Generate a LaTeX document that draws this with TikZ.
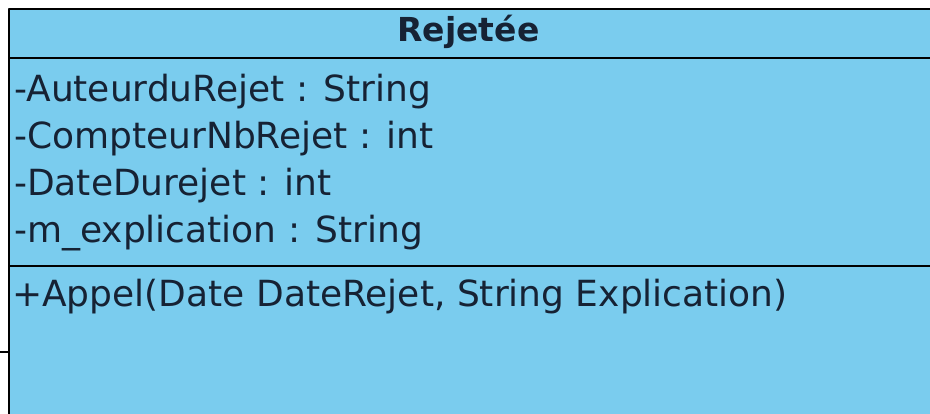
\documentclass[tikz,border=0pt]{standalone}
\usepackage{fontspec}
\setmainfont{DejaVu Sans}
\definecolor{classfill}{RGB}{122,204,238}
\definecolor{classink}{RGB}{22,34,52}
\tikzset{
  member/.style={anchor=base west, inner sep=0pt, text=classink},
}
\begin{document}
\begin{tikzpicture}[x=1pt, y=-1pt, line join=round, font=\fontsize{36}{40}\selectfont]
            \useasboundingbox (0,0) rectangle (930,414);
            \clip (0,0) rectangle (930,414);
            \node[draw=black, line width=2pt, fill=classfill, anchor=north west, inner sep=0pt,
              minimum width=960pt, minimum height=440pt] (cls) at (8,8) {};
            \path
            (cls.north west)+(0,50) coordinate (N)
            (cls.north west)+(0,258) coordinate (M) ;
            \draw[line width=2pt] (N)--+(940,0) (M)--+(940,0);
            \node[anchor=base, inner sep=0pt, text=classink, font=\bfseries\fontsize{33}{36}\selectfont] (title) at (468.5,42) {Rejetée};
            \foreach \n/\t/\y in {1/{-AuteurduRejet : String}/102, 2/{-CompteurNbRejet : int}/149,
              3/{-DateDurejet : int}/196, 4/{-m\_explication : String}/243}
            \node[member] (attr\n) at (14,\y) {\t};
            \node[member] (op1) at (12,307) {+Appel(Date DateRejet, String Explication)};
            \coordinate (stub) at (0,352);
            \draw[line width=1.5pt] (stub)--(stub -| cls.west);
    \end{tikzpicture}
\end{document}
